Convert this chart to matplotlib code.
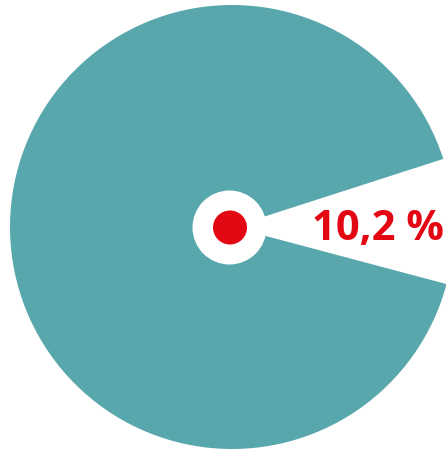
import matplotlib
matplotlib.use("Agg")
import matplotlib.pyplot as plt
from matplotlib.patches import Circle

# Data
label_value = "10,2 %"
shares = [9.1, 90.9]          # gap share (as drawn), remaining share
colors = ["none", "#58A7AC"]
accent = "#E30613"

fig = plt.figure(figsize=(4.46, 4.52), dpi=100)
ax = fig.add_axes([0, 0, 1, 1])

cx, cy = 232, 452 - 228
ax.pie(shares, colors=colors, startangle=-14.9, counterclock=True,
       center=(cx, cy), radius=222, frame=True,
       wedgeprops=dict(linewidth=0))
ax.set_xlim(0, 446)
ax.set_ylim(0, 452)
ax.set_aspect("equal")
ax.axis("off")

hx, hy = 229.5, 452 - 228.5
ax.add_patch(Circle((hx, hy), 37, color="white", zorder=3, lw=0))
ax.add_patch(Circle((hx + 0.5, hy), 17, color=accent, zorder=4, lw=0))

ax.text(377.5, 452 - 240.5, label_value, color=accent, fontsize=30,
        fontweight="bold", family="Open Sans", ha="center", va="baseline",
        zorder=5)

fig.savefig("out.png", dpi=100)
